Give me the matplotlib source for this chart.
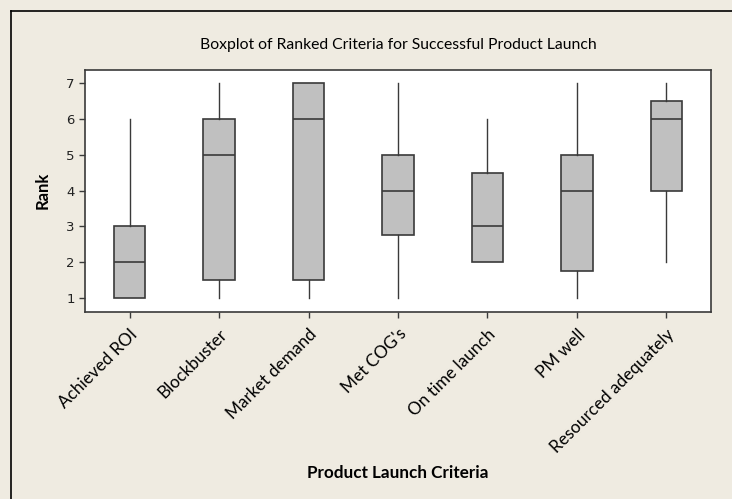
import matplotlib.pyplot as plt
from matplotlib.lines import Line2D

criteria = ['Achieved ROI', 'Blockbuster', 'Market demand', "Met COG's",
            'On time launch', 'PM well', 'Resourced adequately']
whislo = [1, 1, 1, 1, 2, 1, 2]
q1 = [1, 1.5, 1.5, 2.75, 2, 1.75, 4]
med = [2, 5, 6, 4, 3, 4, 6]
q3 = [3, 6, 7, 5, 4.5, 5, 6.5]
whishi = [6, 7, 7, 7, 6, 7, 7]

bg = '#efebe1'
edge = '#3a3a3a'

stats = []
for i, name in enumerate(criteria):
    stats.append({'label': name, 'whislo': whislo[i], 'q1': q1[i], 'med': med[i],
                  'q3': q3[i], 'whishi': whishi[i], 'fliers': []})

fig = plt.figure(figsize=(7.32, 4.99), dpi=100, facecolor=bg)
ax = fig.add_axes([85 / 732, 187 / 499, 626 / 732, 242.5 / 499])
ax.set_facecolor('white')

ax.bxp(stats, widths=0.35, patch_artist=True, showcaps=False,
       boxprops=dict(facecolor='#c0c0c0', edgecolor=edge, linewidth=1.2),
       medianprops=dict(color=edge, linewidth=1.2),
       whiskerprops=dict(color=edge, linewidth=1.0))

ax.set_xlim(0.5, 7.5)
ax.set_ylim(0.62, 7.37)
ax.set_yticks(range(1, 8))
ax.set_xticks(range(1, 8))
ax.set_xticklabels(criteria, rotation=45, ha='right', rotation_mode='anchor',
                   fontfamily='Lato', fontsize=12.3)
for lab in ax.get_yticklabels():
    lab.set_fontsize(9.5)
    lab.set_color('#222222')
ax.tick_params(direction='out', length=4, width=1, color=edge)
ax.tick_params(axis='x', pad=6)
for s in ax.spines.values():
    s.set_color(edge)
    s.set_linewidth(1.2)

ax.set_title('Boxplot of Ranked Criteria for Successful Product Launch',
             fontfamily='Lato', fontsize=11.3, pad=15)
ax.set_ylabel('Rank', fontfamily='Lato', fontweight='bold', fontsize=12, labelpad=11)
fig.text(398 / 732, 1 - 473 / 499, 'Product Launch Criteria', ha='center', va='center',
         fontfamily='Lato', fontweight='bold', fontsize=12.3)

# frame lines on left and top of the graph window
fig.add_artist(Line2D([11 / 732, 11 / 732], [0, 1 - 11 / 499], color='black', lw=1.2))
fig.add_artist(Line2D([11 / 732, 1], [1 - 11 / 499, 1 - 11 / 499], color='black', lw=1.2))

fig.savefig('out.png', dpi=100, facecolor=bg)
